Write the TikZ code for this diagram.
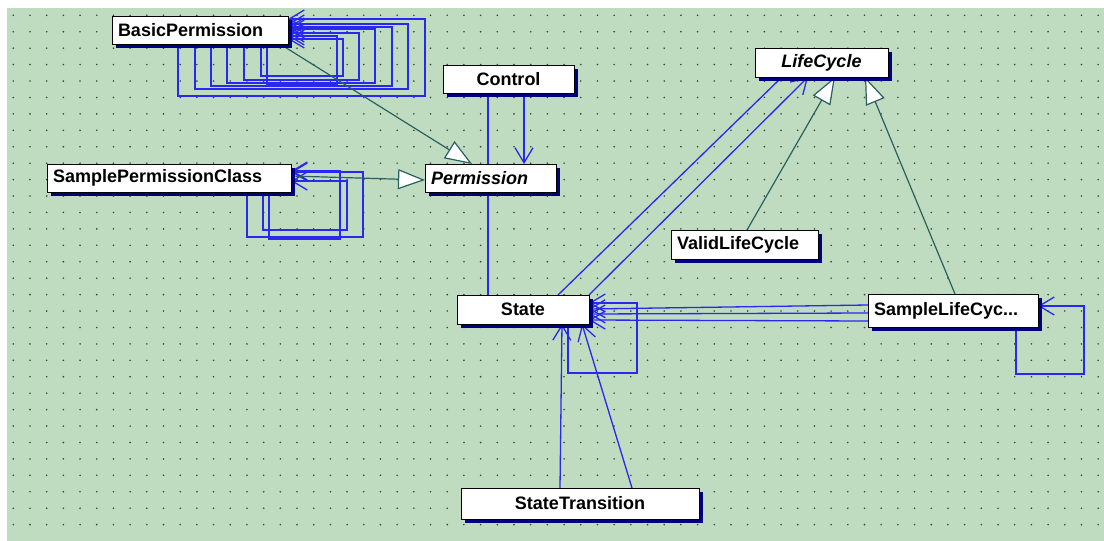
\documentclass[tikz,border=0pt]{standalone}
\usepackage{fontspec}
\setmainfont{Liberation Sans}
\usetikzlibrary{arrows.meta,shadows}
\definecolor{umlgreen}{RGB}{192,220,192}
\definecolor{dotgrey}{RGB}{60,70,60}
\definecolor{linkblue}{RGB}{40,40,240}
\definecolor{genteal}{RGB}{40,96,96}
\definecolor{shadownavy}{RGB}{0,0,128}
\pgfdeclarelayer{paper}
\pgfdeclarelayer{wires}
\pgfsetlayers{paper,wires,main}
\begin{document}
\begin{tikzpicture}[x=1pt,y=-1pt,inner sep=0pt,outer sep=0pt,
>={Straight Barb[length=15pt,width=18pt]},
cls/.style={draw=black,line width=1pt,fill=white,inner xsep=6pt,inner ysep=2pt,align=left,
  font=\fontsize{18}{20}\selectfont\bfseries,
  drop shadow={shadow xshift=4pt,shadow yshift=-4pt,fill=shadownavy,opacity=1}},
assoc/.style={draw=linkblue,line width=1.3pt},
dep/.style={assoc,->},
gen/.style={draw=genteal,line width=1.2pt,-{Triangle[length=27pt,width=20pt,fill=white]}}]
\useasboundingbox (0,0) rectangle (1104,541);
\begin{pgfonlayer}{paper}
\fill[white] (0,0) rectangle (1104,541);
\fill[umlgreen] (7,8) rectangle (1104,541);
\foreach \i in {0,...,65}
  \foreach \j in {0,...,31}
    \fill[dotgrey] ({13.3+16.69*\i},{15.3+16.43*\j}) circle (0.9pt);
\end{pgfonlayer}
\draw (200,30) node[cls,text width=164pt,minimum height=28pt] (bp) {BasicPermission};
\draw (508.5,79) node[cls,minimum width=131pt,minimum height=28pt,align=center] (ctrl) {Control};
\draw (490.5,178) node[cls,text width=119pt,minimum height=28pt] (perm) {\itshape Permission};
\draw (169,178) node[cls,text width=232pt,minimum height=28pt] (spc) {SamplePermissionClass};
\draw (821.5,62.5) node[cls,minimum width=133pt,minimum height=29pt,align=center] (lc) {\itshape LifeCycle};
\draw (744.5,244.5) node[cls,text width=135pt,minimum height=29pt] (vlc) {ValidLifeCycle};
\draw (523,309.5) node[cls,minimum width=132pt,minimum height=29pt,align=center] (st) {State};
\draw (953,310.5) node[cls,text width=158pt,minimum height=33pt] (slc) {SampleLifeCyc...};
\draw (580,503.5) node[cls,minimum width=238pt,minimum height=31pt,align=center] (tr) {StateTransition};
\begin{pgfonlayer}{wires}
\foreach \a/\b/\c/\d in {178/96/425/19,195/89/408/24,211/86/392/27,227/83/375/29,244/80/359/33,261/76/343/39,267/85/337/36}
  \draw[dep] (bp.south -| \a,0) |- (\c,\b) |- (bp.east |- 0,\d);
\foreach \a/\b/\c/\d in {247/237/363/172,263/230/347/181,269/239/340/171}
  \draw[dep] (spc.south -| \a,0) |- (\c,\b) |- (spc.east |- 0,\d);
\draw[gen] (bp.south -| 280,0) -- (perm.north -| 472,0);
\draw[gen] (spc.east |- 0,176) -- (perm.west |- 0,180);
\draw[assoc] (ctrl.south -| 488,0) -- (st.north -| 488,0);
\draw[dep] (ctrl.south -| 524,0) -- (perm.north -| 524,0);
\draw[assoc] (st.north -| 558,0) -- (lc.south -| 782,0);
\draw[dep] (st.north east) -- (lc.south -| 808,0);
\draw[gen] (vlc.north -| 747,0) -- (lc.south -| 835,0);
\draw[gen] (slc.north -| 955,0) -- (lc.south -| 865,0);
\draw[dep] (slc.west |- 0,305) -- (st.east |- 0,309);
\draw[dep] (slc.west |- 0,313) -- (st.east |- 0,314);
\draw[dep] (slc.west |- 0,321) -- (st.east |- 0,320);
\draw[dep] (st.south -| 568,0) |- (637,373) |- (st.east |- 0,303);
\draw[dep] (tr.north -| 560,0) -- (st.south -| 562,0);
\draw[dep] (tr.north -| 632,0) -- (st.south -| 582,0);
\draw[dep] (slc.south -| 1016,0) |- (1084,374) |- (slc.east |- 0,306);
\end{pgfonlayer}
\end{tikzpicture}
\end{document}
